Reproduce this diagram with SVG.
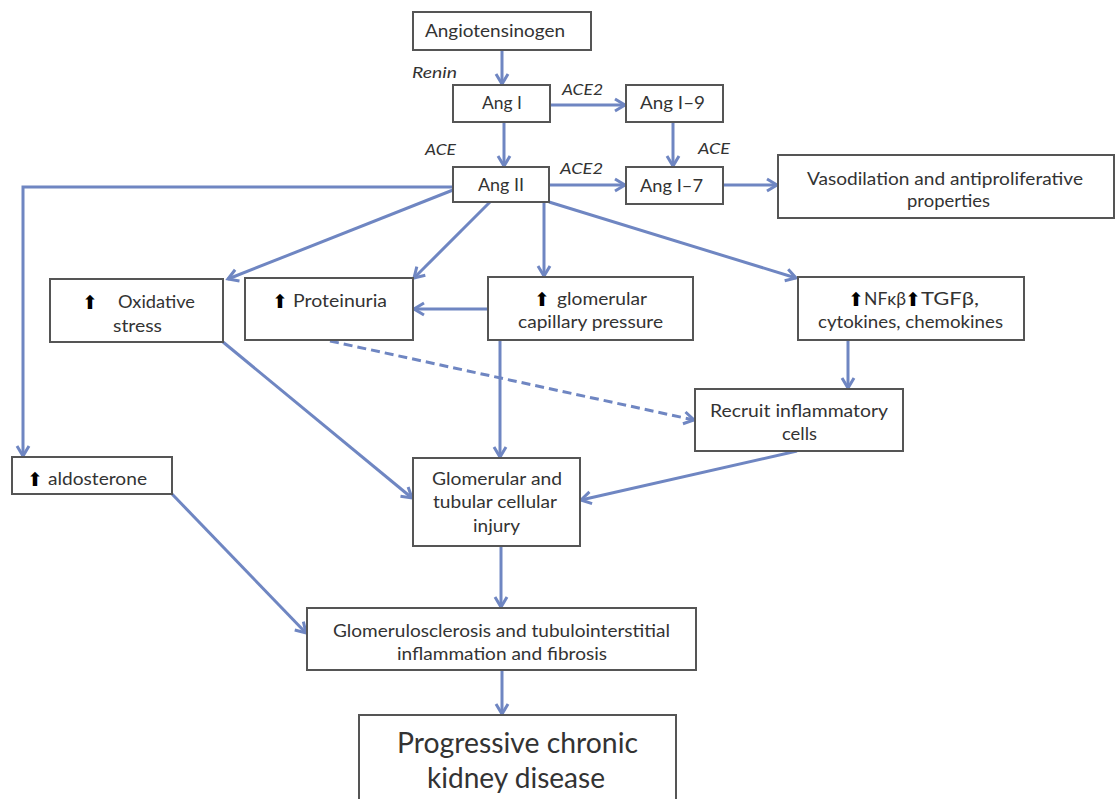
<svg xmlns="http://www.w3.org/2000/svg" width="1116" height="799" viewBox="0 0 1116 799">
<defs>
<marker id="arr" markerUnits="userSpaceOnUse" markerWidth="18" markerHeight="18" refX="13" refY="8" orient="auto">
<path d="M3,2 L13,8 L3,14" fill="none" stroke="#6f86c2" stroke-width="3" stroke-linejoin="miter"/>
</marker>
<style>
.box{fill:#fff;stroke:#555;stroke-width:2}
.t{font-family:Lato,"Liberation Sans",sans-serif;font-size:16.5px;fill:#333}
.lbl{font-family:Lato,"Liberation Sans",sans-serif;font-size:15px;font-style:italic;fill:#333}
.big{font-size:28px}
.up{font-family:"DejaVu Sans",sans-serif;font-size:19px;fill:#000;text-anchor:middle}
.c{fill:none;stroke:#6f86c2;stroke-width:3;marker-end:url(#arr)}
.d{stroke-dasharray:9 5}
</style>
</defs>
<rect width="1116" height="799" fill="#fff"/>
<g id="connectors">
<line class="c" x1="502" y1="50" x2="502" y2="84"/>
<line class="c" x1="550" y1="105" x2="625" y2="105"/>
<line class="c" x1="504" y1="122" x2="504" y2="166"/>
<line class="c" x1="673" y1="122" x2="673" y2="166"/>
<line class="c" x1="549" y1="185" x2="625" y2="185"/>
<line class="c" x1="723" y1="185" x2="777" y2="185"/>
<path class="c" d="M453,187 H23 V456"/>
<line class="c" x1="453" y1="190" x2="228" y2="279"/>
<line class="c" x1="490" y1="202" x2="414" y2="278"/>
<line class="c" x1="544" y1="202" x2="544" y2="276"/>
<line class="c" x1="549" y1="202" x2="796" y2="278"/>
<line class="c" x1="488" y1="309" x2="414" y2="309"/>
<line class="c" x1="500" y1="340" x2="500" y2="457"/>
<line class="c" x1="848" y1="340" x2="848" y2="388"/>
<line class="c d" x1="330" y1="341" x2="694" y2="420"/>
<line class="c" x1="223" y1="342" x2="412" y2="498"/>
<line class="c" x1="797" y1="451" x2="581" y2="500"/>
<line class="c" x1="172" y1="494" x2="306" y2="633"/>
<line class="c" x1="501" y1="546" x2="501" y2="607"/>
<line class="c" x1="502" y1="670" x2="502" y2="714"/>
</g>
<g id="labels">
<text class="lbl" x="412" y="78" textLength="45" lengthAdjust="spacingAndGlyphs">Renin</text>
<text class="lbl" x="562" y="95" textLength="41" lengthAdjust="spacingAndGlyphs">ACE2</text>
<text class="lbl" x="425" y="155" textLength="31" lengthAdjust="spacingAndGlyphs">ACE</text>
<text class="lbl" x="698" y="154" textLength="32" lengthAdjust="spacingAndGlyphs">ACE</text>
<text class="lbl" x="560" y="174" textLength="43" lengthAdjust="spacingAndGlyphs">ACE2</text>
</g>
<g id="n-angiotensinogen"><rect class="box" x="413" y="12" width="178" height="38"/><text class="t" x="425" y="37" textLength="140" lengthAdjust="spacingAndGlyphs">Angiotensinogen</text></g>
<g id="n-ang1"><rect class="box" x="453" y="85" width="97" height="37"/><text class="t" x="482" y="109" textLength="40" lengthAdjust="spacingAndGlyphs">Ang I</text></g>
<g id="n-ang19"><rect class="box" x="626" y="85" width="97" height="37"/><text class="t" x="640" y="109" textLength="65" lengthAdjust="spacingAndGlyphs">Ang I–9</text></g>
<g id="n-ang2"><rect class="box" x="453" y="167" width="96" height="35"/><text class="t" x="478" y="191" textLength="46" lengthAdjust="spacingAndGlyphs">Ang II</text></g>
<g id="n-ang17"><rect class="box" x="626" y="167" width="97" height="37"/><text class="t" x="640" y="192" textLength="63" lengthAdjust="spacingAndGlyphs">Ang I–7</text></g>
<g id="n-vaso"><rect class="box" x="778" y="155" width="336" height="63"/><text class="t" x="807" y="185" textLength="276" lengthAdjust="spacingAndGlyphs">Vasodilation and antiproliferative</text><text class="t" x="907" y="207" textLength="83" lengthAdjust="spacingAndGlyphs">properties</text></g>
<g id="n-oxid"><rect class="box" x="50" y="279" width="173" height="63"/><text class="up" x="90" y="309">⬆</text><text class="t" x="118" y="308" textLength="77" lengthAdjust="spacingAndGlyphs">Oxidative</text><text class="t" x="113" y="332" textLength="49" lengthAdjust="spacingAndGlyphs">stress</text></g>
<g id="n-prot"><rect class="box" x="245" y="278" width="168" height="62"/><text class="up" x="280" y="308">⬆</text><text class="t" x="293" y="307" textLength="94" lengthAdjust="spacingAndGlyphs">Proteinuria</text></g>
<g id="n-glom"><rect class="box" x="488" y="277" width="205" height="63"/><text class="up" x="542" y="306">⬆</text><text class="t" x="557" y="305" textLength="90" lengthAdjust="spacingAndGlyphs">glomerular</text><text class="t" x="518" y="328" textLength="145" lengthAdjust="spacingAndGlyphs">capillary pressure</text></g>
<g id="n-nfkb"><rect class="box" x="798" y="277" width="226" height="63"/><text class="up" x="856" y="306">⬆</text><text class="t" x="864" y="305" textLength="42" lengthAdjust="spacingAndGlyphs">NFκβ</text><text class="up" x="913" y="306">⬆</text><text class="t" x="921" y="305" textLength="58" lengthAdjust="spacingAndGlyphs">TGFβ,</text><text class="t" x="818" y="328" textLength="185" lengthAdjust="spacingAndGlyphs">cytokines, chemokines</text></g>
<g id="n-recruit"><rect class="box" x="695" y="389" width="208" height="62"/><text class="t" x="710" y="417" textLength="178" lengthAdjust="spacingAndGlyphs">Recruit inflammatory</text><text class="t" x="782" y="440" textLength="35" lengthAdjust="spacingAndGlyphs">cells</text></g>
<g id="n-aldo"><rect class="box" x="12" y="457" width="160" height="37"/><text class="up" x="35" y="486">⬆</text><text class="t" x="48" y="485" textLength="99" lengthAdjust="spacingAndGlyphs">aldosterone</text></g>
<g id="n-injury"><rect class="box" x="413" y="458" width="167" height="88"/><text class="t" x="432" y="485" textLength="130" lengthAdjust="spacingAndGlyphs">Glomerular and</text><text class="t" x="433" y="508" textLength="124" lengthAdjust="spacingAndGlyphs">tubular cellular</text><text class="t" x="473" y="532" textLength="47" lengthAdjust="spacingAndGlyphs">injury</text></g>
<g id="n-sclero"><rect class="box" x="307" y="608" width="389" height="62"/><text class="t" x="333" y="637" textLength="337" lengthAdjust="spacingAndGlyphs">Glomerulosclerosis and tubulointerstitial</text><text class="t" x="397" y="660" textLength="210" lengthAdjust="spacingAndGlyphs">inflammation and fibrosis</text></g>
<g id="n-ckd"><rect class="box" x="359" y="715" width="317" height="100"/><text class="t big" x="397" y="753" textLength="241" lengthAdjust="spacingAndGlyphs">Progressive chronic</text><text class="t big" x="427" y="788" textLength="178" lengthAdjust="spacingAndGlyphs">kidney disease</text></g>
</svg>
